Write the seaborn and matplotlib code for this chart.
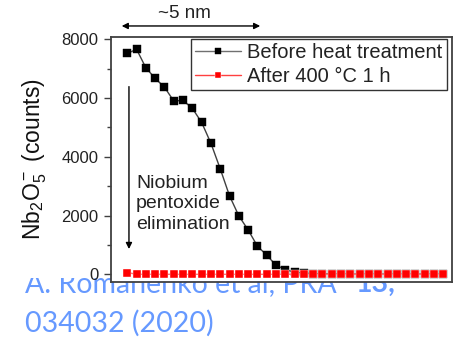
import numpy as np
import pandas as pd
import matplotlib
matplotlib.use("Agg")
import matplotlib.pyplot as plt
import seaborn as sns
from matplotlib.text import Annotation
from matplotlib.patches import Rectangle
from matplotlib.ticker import MultipleLocator

# ---- data ----
depth_index = list(range(35))
before_counts = [7520, 7660, 7030, 6670, 6370, 5900, 5920, 5650, 5170, 4460,
                 3590, 2670, 1990, 1510, 960, 650, 310, 160, 70, 40,
                 25, 15, 10, 10, 5, 5, 5, 5, 5, 5,
                 5, 5, 5, 5, 5]
after_counts = [60, 0, 0, 0, 0, 0, 0, 0, 0, 0,
                0, 0, 0, 0, 0, 0, 0, 0, 0, 0,
                0, 0, 0, 0, 0, 0, 0, 0, 0, 0,
                0, 0, 0, 0, 0]
series_labels = ["Before heat treatment", "After 400 \u00b0C 1 h"]
y_ticks = [0, 2000, 4000, 6000, 8000]

sns.set_style("ticks")
plt.rcParams["font.family"] = ["Liberation Sans", "DejaVu Sans"]
plt.rcParams["mathtext.fontset"] = "custom"
plt.rcParams["mathtext.rm"] = "Liberation Sans"
plt.rcParams["mathtext.it"] = "Liberation Sans:italic"
plt.rcParams["mathtext.default"] = "regular"

fig = plt.figure(figsize=(4.62, 3.39), dpi=100)
ax = fig.add_axes([0.2403, 0.1673, 0.7374, 0.7245])
ax.set_facecolor("white")

# white background of the pasted chart, which hides the top of the citation
fig.add_artist(Rectangle((0, 1 - 278 / 339), 1, 278 / 339,
                         transform=fig.transFigure, facecolor="white",
                         edgecolor="none", zorder=-0.5))

sns.lineplot(x=depth_index, y=before_counts, ax=ax, color="#404040", lw=1.0,
             marker="s", markersize=5.3, markerfacecolor="black",
             markeredgecolor="black", markeredgewidth=0.3,
             label=series_labels[0], zorder=3)
sns.lineplot(x=depth_index, y=after_counts, ax=ax, color="#ff5050", lw=1.0,
             marker="s", markersize=5.3, markerfacecolor="#ff0000",
             markeredgecolor="white", markeredgewidth=0.3,
             label=series_labels[1], zorder=4)

ax.set_xlim(-1.75, 34.9)
ax.set_ylim(-272, 8090)
ax.set_xticks([])
ax.set_yticks(y_ticks)
ax.yaxis.set_minor_locator(MultipleLocator(1000))
ax.tick_params(axis="y", which="major", direction="out", length=5, width=1,
               labelsize=12, pad=4, color="#404040", labelcolor="#222222")
ax.tick_params(axis="y", which="minor", direction="out", length=3, width=1,
               color="#404040")
for s in ax.spines.values():
    s.set_visible(True)
    s.set_color("#404040")
    s.set_linewidth(1.3)

ax.set_ylabel("Nb$_2$O$_5^-$ (counts)", fontsize=16.5, labelpad=9,
              color="#111111")

leg = ax.legend(loc="upper right", bbox_to_anchor=(0.985, 0.989),
                borderaxespad=0, fancybox=False, framealpha=1,
                edgecolor="#333333", fontsize=14.5, handlelength=2.3,
                handletextpad=0.3, borderpad=0.2, labelspacing=0.22,
                markerscale=0.75)
leg.get_frame().set_linewidth(1.0)
for h, c in zip(leg.get_lines(), ["#707070", "#ff4040"]):
    h.set_color(c)
for t in leg.get_texts():
    t.set_color("#222222")

# ~5 nm double arrow above the axes
ax.annotate("", xy=(-0.6, 1.0436), xytext=(14.3, 1.0436),
            xycoords=("data", "axes fraction"),
            arrowprops=dict(arrowstyle="<|-|>", color="black", lw=1.0,
                            shrinkA=0, shrinkB=0, mutation_scale=9),
            annotation_clip=False)
ax.text(6.1, 1.0924, "~5 nm", transform=ax.get_xaxis_transform(),
        ha="center", va="center", fontsize=13.5, clip_on=False,
        color="#222222")

# vertical arrow and note
ax.annotate("", xy=(0.18, 860), xytext=(0.18, 6390),
            arrowprops=dict(arrowstyle="-|>", color="black", lw=1.0,
                            shrinkA=0, shrinkB=0, mutation_scale=9))
ax.text(0.94, 2400, "Niobium\npentoxide\nelimination", ha="left",
        va="center", fontsize=14, linespacing=1.25, color="#222222")

# citation text partly behind the chart
cite_color = "#6699ff"
t1 = fig.text(25 / 462, 1 - 291.7 / 339, "A. Romanenko et al, PRA ",
              fontsize=20.5, color=cite_color, family=["Lato", "DejaVu Sans"],
              ha="left", va="baseline", zorder=-1)
a13 = Annotation("13,", xy=(1, 0), xycoords=t1, xytext=(8, 0),
                 textcoords="offset points", fontsize=20.5, color=cite_color,
                 family=["Lato", "DejaVu Sans"], fontweight="bold",
                 ha="left", va="bottom", zorder=-1)
fig.add_artist(a13)
fig.text(25 / 462, 1 - 331.7 / 339, "034032 (2020)", fontsize=20.5,
         color=cite_color, family=["Lato", "DejaVu Sans"], ha="left",
         va="baseline", zorder=-1)

fig.savefig("out.png", dpi=100)
